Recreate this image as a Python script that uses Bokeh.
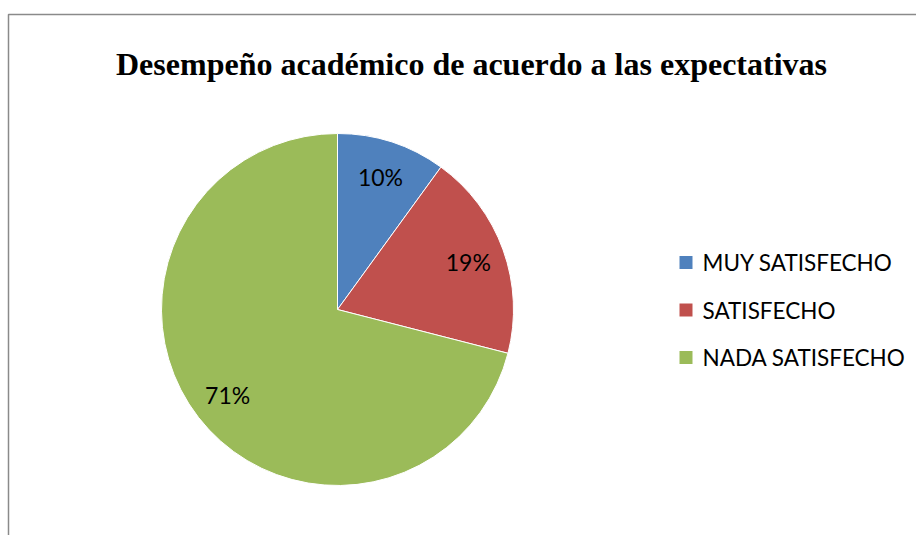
import math
from bokeh.plotting import figure
from bokeh.models import Range1d, BoxAnnotation, ColumnDataSource
from bokeh.core.properties import value
from bokeh.embed import file_html
from bokeh.resources import INLINE

title_text = "Desempeño académico de acuerdo a las expectativas"
categories = ["MUY SATISFECHO", "SATISFECHO", "NADA SATISFECHO"]
percentages = [10, 19, 71]
colors = ["#4F81BD", "#C0504D", "#9BBB59"]

W, H = 916, 535
p = figure(width=W, height=H, output_backend="svg", toolbar_location=None,
           x_range=Range1d(0, W), y_range=Range1d(0, H), min_border=0)
p.axis.visible = False
p.grid.visible = False
p.outline_line_color = None
p.background_fill_color = "white"

# outer chart border (only top and left visible)
p.add_layout(BoxAnnotation(left=8, right=W + 20, bottom=-20, top=H - 14,
                           fill_alpha=0, line_color="#8a8a8a", line_alpha=1.0,
                           line_width=1.5))

cx, cy, r = 337, H - 309, 176
total = sum(percentages)
starts, ends, lx, ly, labels = [], [], [], [], []
cum = 0
for v in percentages:
    a0 = math.pi / 2 - 2 * math.pi * cum / total
    cum += v
    a1 = math.pi / 2 - 2 * math.pi * cum / total
    starts.append(a0)
    ends.append(a1)
    mid = (a0 + a1) / 2
    lx.append(cx + 0.79 * r * math.cos(mid))
    ly.append(cy + 0.79 * r * math.sin(mid))
    labels.append(f"{v}%")

src = ColumnDataSource(dict(start=starts, end=ends, color=colors,
                            lx=lx, ly=ly, label=labels, cat=categories))
p.wedge(x=cx, y=cy, radius=r, start_angle="start", end_angle="end",
        direction="clock", fill_color="color", line_color="white",
        line_width=1, source=src)
p.text(x="lx", y="ly", text="label", source=src, text_align="center",
       text_baseline="middle", text_font=value("Lato"), text_font_size="23px",
       text_color="black")

# title
p.text(x=[471], y=[H - 63], text=[title_text], text_align="center",
       text_baseline="alphabetic", text_font=value("Liberation Serif"),
       text_font_style="bold", text_font_size="32px", text_color="black")

# legend
leg_y = [H - 262 - i * 47.5 for i in range(len(categories))]
leg = ColumnDataSource(dict(y=leg_y, cat=categories, color=colors))
p.scatter(x=685.5, y="y", marker="square", size=13, fill_color="color",
          line_color=None, source=leg)
p.text(x=702, y="y", text="cat", source=leg, text_align="left",
       text_baseline="middle", text_font=value("Lato"), text_font_size="22.5px",
       text_color="black")

open("out.html", "w").write(file_html(p, INLINE))
